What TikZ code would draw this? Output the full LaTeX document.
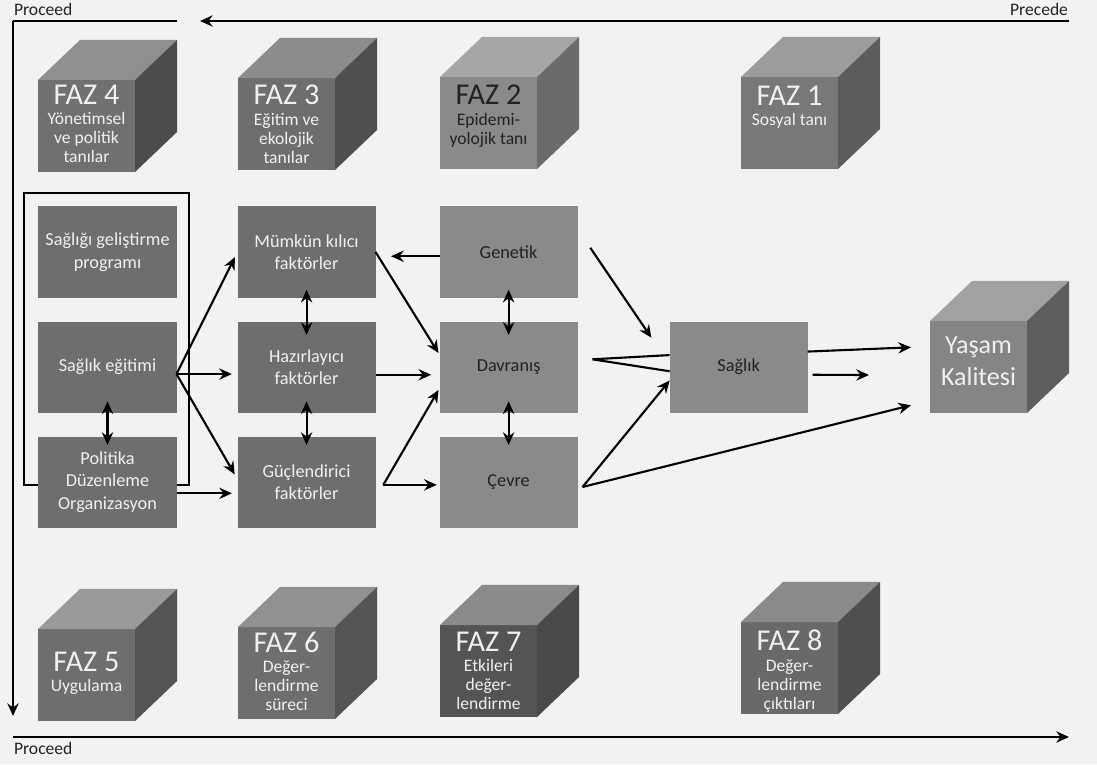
\documentclass[tikz,border=0pt]{standalone}
\usepackage{fontspec}
\setmainfont{Carlito}
\usepackage{xcolor}
\usepackage{tikz}
\usetikzlibrary{positioning, arrows.meta}

\definecolor{bgcol}{HTML}{F2F2F2}
\definecolor{boxdark}{HTML}{6E6E6E}
\definecolor{boxlight}{HTML}{8A8A8A}
\definecolor{txtdark}{HTML}{222222}
\definecolor{txtlight}{HTML}{F0F0F0}

\newcommand{\boxfont}{\fontsize{13}{16}\selectfont}
\newcommand{\cubefont}{\fontsize{12.5}{13.5}\selectfont}
\newcommand{\fazhead}[1]{{\fontsize{21.5}{23}\selectfont #1}}
% #1 name, #2 centre of front face, #3 front, #4 top, #5 side
\newcommand{\fazcube}[5]{%
  \node[cube, fill=#3] (#1) at #2 {};
  \fill[#4] (#1.north west) -- ([shift={(42,-40)}]#1.north west) -- ([shift={(42,-40)}]#1.north east) -- (#1.north east) -- cycle;
  \fill[#5] (#1.north east) -- ([shift={(42,-40)}]#1.north east) -- ([shift={(42,-40)}]#1.south east) -- (#1.south east) -- cycle;
}

\begin{document}
\begin{tikzpicture}[x=0.025cm, y=-0.025cm, >={Stealth[length=9pt,width=8pt,inset=3pt]}, line width=1.5pt,
    box/.style={rectangle, inner sep=0pt, outer sep=0pt, minimum width=3.45cm, minimum height=2.275cm, align=center, font=\boxfont},
    darkbox/.style={box, fill=boxdark, text=txtlight},
    lightbox/.style={box, fill=boxlight, text=txtdark},
    cube/.style={rectangle, inner sep=0pt, outer sep=0pt, minimum width=2.425cm, minimum height=2.3cm},
    fazlbl/.style={align=center, inner sep=0pt, font=\cubefont, text=txtlight},
    lbl/.style={inner sep=0pt, font=\fontsize{12.5}{14}\selectfont, text=txtdark},
    flow/.style={->, shorten >=4pt},
    dbl/.style={<->},
    frame/.style={line width=1.7pt}]
    \fill[bgcol] (0,0) rectangle (1097,764);

    % Precede / Proceed
    \coordinate (tl) at (13,21);
    \coordinate (tlend) at (177,21);
    \coordinate (trstart) at (1069,21);
    \coordinate (trend) at (200,21);
    \coordinate (bl) at (13,716);
    \coordinate (bstart) at (13,737);
    \coordinate (bend) at (1069,737);
    \draw[frame] (tlend) -- (tl);
    \draw[frame, ->] (tl) -- (bl);
    \draw[frame, ->] (trstart) -- (trend);
    \draw[frame, ->] (bstart) -- (bend);
    \node[lbl, anchor=south west] (proc1) at (13,17) {Proceed};
    \node[lbl, anchor=south east] (prec) at (1069,17) {Precede};
    \node[lbl, anchor=north west] (proc2) at (13,741) {Proceed};

    % phases
    \fazcube{f4}{(86.5,126)}{white!44!black}{white!56!black}{white!30!black}
    \fazcube{f3}{(286.5,124)}{white!43!black}{white!55!black}{white!31!black}
    \fazcube{f2}{(488.5,123)}{white!54!black}{white!65!black}{white!42!black}
    \fazcube{f1}{(789.5,123)}{white!47!black}{white!61!black}{white!36!black}
    \fazcube{f5}{(86.5,675)}{white!43!black}{white!60!black}{white!33!black}
    \fazcube{f6}{(286.5,673)}{white!43!black}{white!57!black}{white!33!black}
    \fazcube{f7}{(488.5,671)}{white!33!black}{white!54!black}{white!29!black}
    \fazcube{f8}{(789.5,668)}{white!41!black}{white!54!black}{white!31!black}

    \node[fazlbl, anchor=north] (f4t) at (86.5,84) {\fazhead{FAZ 4}\\[1pt]Yönetimsel\\ve politik\\tanılar};
    \node[fazlbl, anchor=north] (f3t) at (286.5,84) {\fazhead{FAZ 3}\\[1pt]Eğitim ve\\ekolojik\\tanılar};
    \node[fazlbl, anchor=north, text=txtdark] (f2t) at (488.5,84) {\fazhead{FAZ 2}\\[1pt]Epidemi-\\yolojik tanı};
    \node[fazlbl, anchor=north] (f1t) at (789.5,85) {\fazhead{FAZ 1}\\[1pt]Sosyal tanı};
    \node[fazlbl] (f5t) at (86.5,673) {\fazhead{FAZ 5}\\[1pt]Uygulama};
    \node[fazlbl, anchor=north] (f6t) at (286.5,631) {\fazhead{FAZ 6}\\[1pt]Değer-\\lendirme\\süreci};
    \node[fazlbl, anchor=north] (f7t) at (488.5,631) {\fazhead{FAZ 7}\\[1pt]Etkileri\\değer-\\lendirme};
    \node[fazlbl, anchor=north] (f8t) at (789.5,629) {\fazhead{FAZ 8}\\[1pt]Değer-\\lendirme\\çıktıları};

    % programme frame
    \draw[frame] (24,193) rectangle (189,485);

    % boxes
    \node[darkbox] (sgp) at (107.5,252) {Sağlığı geliştirme\\programı};
    \node[darkbox] (se) [below=0.6cm of sgp] {Sağlık eğitimi};
    \node[darkbox] (pdo) [below=0.6cm of se] {Politika\\Düzenleme\\Organizasyon};
    \node[darkbox] (mk) [right=1.525cm of sgp] {Mümkün kılıcı\\faktörler};
    \node[darkbox] (hz) [below=0.6cm of mk] {Hazırlayıcı\\faktörler};
    \node[darkbox] (gc) [below=0.6cm of hz] {Güçlendirici\\faktörler};
    \node[lightbox] (gn) [right=1.6cm of mk] {Genetik};
    \node[lightbox] (dv) [below=0.6cm of gn] {Davranış};
    \node[lightbox] (cv) [below=0.6cm of dv] {Çevre};
    \node[lightbox] (sag) [right=2.3cm of dv] {Sağlık};
    \fazcube{yk}{(978.5,367)}{white!52!black}{white!63!black}{white!37!black}
    \node[fazlbl, font=\fontsize{18.5}{23}\selectfont] (ykt) at ([yshift=4pt]yk.center) {Yaşam\\Kalitesi};

    % connectors
    \coordinate (seout) at ([yshift=-5pt]se.east);
    \coordinate (gcv) at ([xshift=5.5pt,yshift=-2pt]gc.east);
    \coordinate (dvv) at ([xshift=10.5pt,yshift=5.5pt]dv.east);
    \coordinate (cvv) at ([xshift=3.5pt,yshift=-3.5pt]cv.east);
    \coordinate (sagfree) at (869,375);

    \path[flow] (seout) edge (mk.west)
          (seout) edge ([yshift=-5pt]hz.west)
          (seout) edge ([yshift=2pt]gc.west)
          ([yshift=-8pt]pdo.east) edge ([yshift=-8pt]gc.west)
          ([yshift=-3pt]gn.west) edge[shorten >=11pt] ([yshift=-3pt]mk.east)
          (mk.east) edge[shorten >=1.5pt] (dv.170)
          ([yshift=-5.5pt]hz.east) edge[shorten >=6pt] ([yshift=-5.5pt]dv.west)
          (gcv) edge[shorten >=1.5pt] (dv.197)
          (gcv) edge[shorten >=2pt] ([yshift=-2pt]cv.west)
          ([xshift=9pt,yshift=3pt]gn.east) edge[shorten >=0pt] ([xshift=-13pt,yshift=-11.5pt]sag.north west)
          (cvv) edge[shorten >=0pt] (sag.191)
          (cvv) edge[shorten >=0pt] ([xshift=-13.5pt,yshift=5.5pt]yk.south west)
          ([yshift=11pt]sag.east) edge[shorten >=0pt] ([xshift=-13.5pt,yshift=14pt]yk.west)
          ([xshift=3.5pt,yshift=-5.5pt]sag.east) edge[shorten >=0pt] (sagfree);
    \draw (dvv) -- ([yshift=8.5pt]sag.west)
          (dvv) -- ([yshift=-3pt]sag.west);
    \path[dbl] ([yshift=8pt]se.south) edge ([yshift=-6pt]pdo.north)
          ([yshift=5.5pt]mk.south) edge ([yshift=-9.5pt]hz.north)
          ([yshift=8pt]hz.south) edge ([yshift=-6pt]gc.north)
          ([yshift=5.5pt]gn.south) edge ([yshift=-9.5pt]dv.north)
          ([yshift=8pt]dv.south) edge ([yshift=-6pt]cv.north);
\end{tikzpicture}
\end{document}
